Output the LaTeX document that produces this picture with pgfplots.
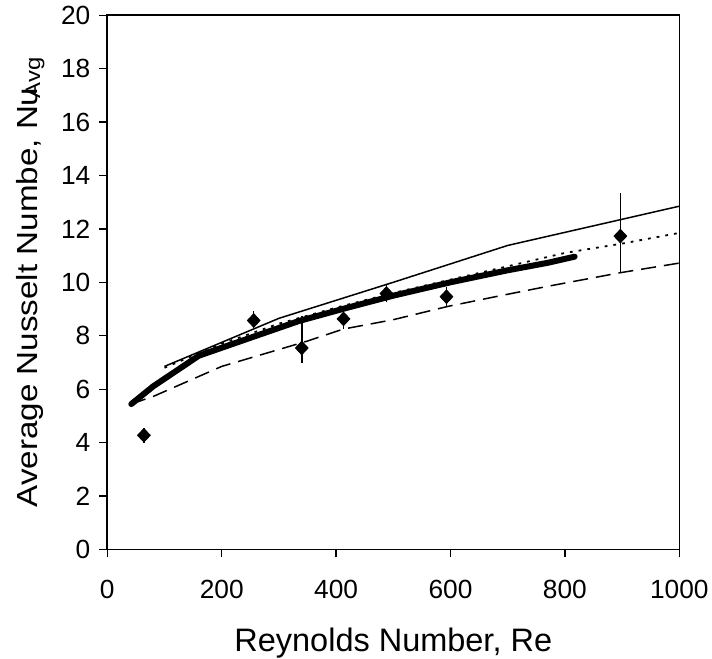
\documentclass[border=0pt]{standalone}
\usepackage{pgfplots}
\pgfplotsset{compat=1.18}
\usepackage{fontspec}
\setmainfont{Liberation Sans}
\begin{document}
\begin{tikzpicture}
\begin{axis}[
  scale only axis,
  width=286bp, height=267bp,
  xmin=0, xmax=1000, ymin=0, ymax=20,
  xtick={0,200,...,1000}, ytick={0,2,...,20},
  tick align=outside, xtick pos=bottom, ytick pos=left,
  major tick length=4bp,
  tick style={black, line width=0.6bp},
  axis line style={line width=0.8bp},
  /pgf/number format/assume math mode=true,
  /pgf/number format/1000 sep={},
  ticklabel style={font=\fontsize{13.2}{15}\selectfont},
  xticklabel style={anchor=center, yshift=-16bp},
  yticklabel style={anchor=east, xshift=-1bp},
  xlabel={Reynolds Number, Re},
  ylabel={\scalebox{1.14}[1]{Average Nusselt Numbe, Nu\kern-0.32em\raisebox{-0.2ex}{\fontsize{10.5}{12}\selectfont Avg}}},
  xlabel style={font=\fontsize{16.3}{18}\selectfont, at={(axis description cs:0.5,0)}, anchor=center, yshift=-47bp},
  ylabel style={font=\fontsize{14.6}{17}\selectfont, at={(axis description cs:0,0.5)}, anchor=center, yshift=38.5bp},
  clip=false,
]
% thin solid
\addplot[black, line width=0.75bp] coordinates {(100,6.85) (300,8.65) (500,10.0) (700,11.38) (1000,12.85)};
% dotted
\addplot[black, line width=0.9bp, dash pattern=on 1.4bp off 3bp] coordinates {(100,6.8) (200,7.7) (300,8.45) (400,9.05) (500,9.6) (600,10.1) (700,10.6) (800,11.1) (900,11.45) (1000,11.85)};
% dashed
\addplot[black, line width=0.75bp, dash pattern=on 7.5bp off 4bp] coordinates {(42,5.44) (83,5.75) (200,6.85) (350,7.8) (413,8.25) (500,8.6) (596,9.1) (683,9.48) (770,9.85) (897,10.36) (1000,10.72)};
% thick
\addplot[black, line width=3bp, line cap=round, line join=round] coordinates {(42,5.44) (80,6.1) (160,7.25) (250,7.92) (335,8.55) (420,9.05) (500,9.5) (600,10.0) (700,10.45) (770,10.73) (817,10.96)};
% experimental
\addplot[only marks, mark=diamond*, mark size=3.4bp, mark options={xscale=1.25}, black,
  error bars/.cd, y dir=both, y explicit, error mark=none,
  error bar style={line width=0.75bp}]
  coordinates {
  (64,4.27) += (0,0.27) -= (0,0.29)
  (256,8.57) += (0,0.37) -= (0,0.28)
  (340,7.54) += (0,1.19) -= (0,0.56)
  (413,8.63) += (0,0.45) -= (0,0.38)
  (488,9.58) += (0,0.36) -= (0,0.31)
  (593,9.46) += (0,0.36) -= (0,0.36)
  (897,11.73) += (0,1.63) -= (0,1.37)
  };
\end{axis}
\pgfresetboundingbox
\path[use as bounding box] ([shift={(-53.65bp,-54.85bp)}]current axis.south west) rectangle ([shift={(16.35bp,7.65bp)}]current axis.north east);
\end{tikzpicture}
\end{document}
